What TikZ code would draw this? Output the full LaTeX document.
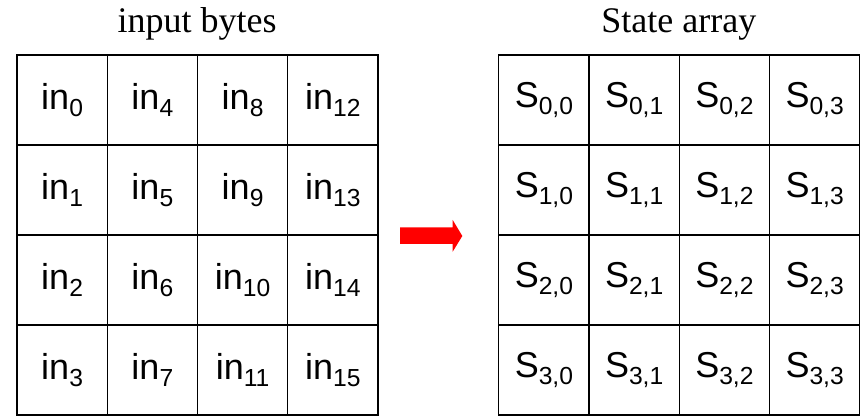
\documentclass[tikz,border=0pt]{standalone}
\usepackage{fontspec}
\setmainfont{Liberation Serif}
\newfontfamily\cellfont{Liberation Sans}
\newcommand{\lowidx}[1]{\raisebox{-5pt}{\fontsize{18.5}{20}\selectfont #1}}

\begin{document}
\begin{tikzpicture}[
    x=0.75pt, y=-0.75pt,
    cell/.style={draw, line width=0.85pt, minimum width=67.7pt,
                 minimum height=67.5pt, inner sep=0pt,
                 font=\cellfont\fontsize{27}{30}\selectfont},
    gridtitle/.style={anchor=base, inner sep=0pt,
                      font=\fontsize{27}{30}\selectfont}
]
    \useasboundingbox (0,0) rectangle (862,416);

    \node[gridtitle] (intitle) at (197,32.5) {input bytes};
    \node[gridtitle] (statetitle) at (678.8,33) {State array};

    % input bytes, filled column by column
    \foreach \r in {0,...,3}
        \foreach \c in {0,...,3} {
            \pgfmathtruncatemacro\k{4*\c+\r}
            \node[cell] (in\k) at ({62.1+90.25*\c},{100+90*\r}) {in\lowidx{\k}};
        }

    % state array
    \foreach \r in {0,...,3}
        \foreach \c in {0,...,3}
            \node[cell] (s\r\c) at ({543.9+90.25*\c},{100+90*\r}) {S\lowidx{\r,\c}};

    \fill[red] (400,227.3) -- (452.7,227.3) -- (452.7,220) -- (462.3,236)
        -- (452.7,251.7) -- (452.7,244) -- (400,244) -- cycle;

\end{tikzpicture}
\end{document}
